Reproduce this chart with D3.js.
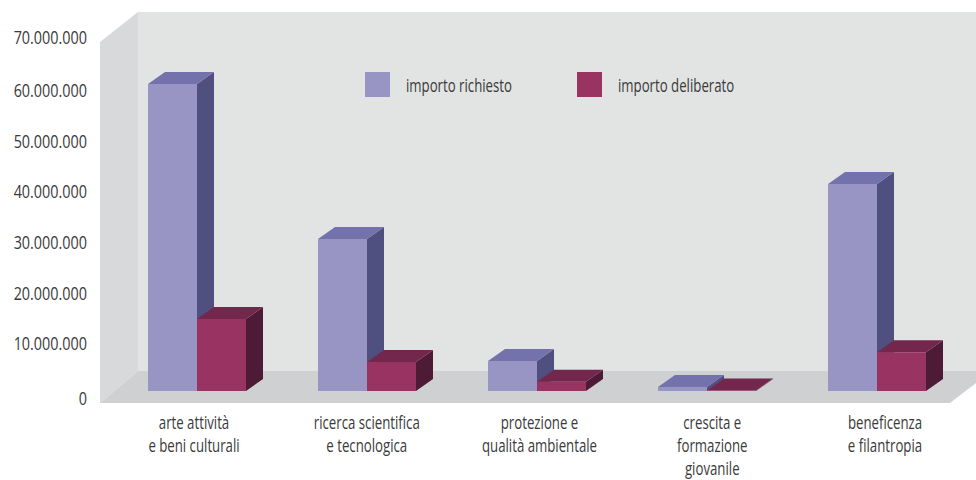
<!DOCTYPE html>
<html>
<head>
<meta charset="utf-8">
<script src="https://cdn.jsdelivr.net/npm/d3@7"></script>
<style>
  html, body { margin: 0; padding: 0; background: #fff; }
  svg { display: block; }
  text { font-family: "Open Sans", sans-serif; font-size: 18px; fill: #3a3a3a; }
</style>
</head>
<body>
<svg class="chart" width="976" height="480"></svg>
<script>
const categories = ["arte", "ricerca", "protezione", "crescita", "beneficenza"];
const categoryLines = [
  ["arte attività", "e beni culturali"],
  ["ricerca scientifica", "e tecnologica"],
  ["protezione e", "qualità ambientale"],
  ["crescita e", "formazione", "giovanile"],
  ["beneficenza", "e filantropia"],
];
const seriesNames = ["importo richiesto", "importo deliberato"];
const richiesto = [60200000, 29800000, 5900000, 800000, 40600000];
const deliberato = [14100000, 5700000, 1800000, 100000, 7600000];
const tickValues = [0, 10000000, 20000000, 30000000, 40000000, 50000000, 60000000, 70000000];

const colors = [
  { front: "#9894c4", top: "#7472ac", side: "#4f4f80" },
  { front: "#983362", top: "#73274d", side: "#4d1b35" },
];

const svg = d3.select(".chart");

const depthX = 17;
const depthY = 12;
const baseY = 391;
// the original type is condensed, none of the installed fonts is
const narrowText = 0.735;
const narrowDigits = 0.8;

const yScale = d3.scaleLinear().domain([0, 70000000]).range([baseY, baseY - 357]);
// tick labels sit a little off the bars' scale in the original
const tickScale = d3.scaleLinear().domain([0, 10000000, 60000000, 70000000]).range([399, 344, 91, 38]);

const xScale = d3.scaleBand().domain(categories).range([112, 962]);
const barScale = d3.scaleBand().domain(seriesNames).range([0, 98]);
const labelScale = d3.scalePoint().domain(categories).range([194, 885]);

const poly = (pts, fill) => svg.append("polygon")
  .attr("points", pts.map((p) => p.join(",")).join(" "))
  .attr("fill", fill);

// walls and floor
poly([[138, 12], [976, 12], [976, 371], [138, 371]], "#e2e4e3");
poly([[100, 42], [138, 12], [138, 371], [100, 403]], "#d8d9db");
poly([[138, 371], [976, 371], [976, 383], [950, 403], [100, 403]], "#cfd0d2");

// axis labels
const fmt = (v) => d3.format(",")(v).replace(/,/g, ".");
const axis = svg.append("g")
  .attr("transform", `translate(87, 0) scale(${narrowDigits}, 1)`)
  .call(d3.axisLeft(tickScale).tickValues(tickValues).tickFormat(fmt).tickSize(0).tickPadding(0));
axis.select(".domain").remove();

// bars
categories.forEach((c, i) => {
  [richiesto, deliberato].forEach((values, s) => {
    const x0 = xScale(c) + (xScale.bandwidth() - barScale.range()[1]) / 2 + barScale(seriesNames[s]);
    const x1 = x0 + barScale.bandwidth();
    const yTop = yScale(values[i]);
    const col = colors[s];
    poly([[x1, yTop], [x1 + depthX, yTop - depthY], [x1 + depthX, baseY - depthY], [x1, baseY]], col.side);
    poly([[x0, yTop], [x0 + depthX, yTop - depthY], [x1 + depthX, yTop - depthY], [x1, yTop]], col.top);
    poly([[x0, yTop], [x1, yTop], [x1, baseY], [x0, baseY]], col.front);
  });
});

// legend
const legendX = d3.scaleOrdinal().domain(seriesNames).range([365, 577]);
const legend = svg.selectAll(".legend").data(seriesNames).enter().append("g")
  .attr("transform", (d) => `translate(${legendX(d)}, 72)`);
legend.append("rect").attr("width", 25).attr("height", 25)
  .attr("fill", (d, i) => colors[i].front);
legend.append("text")
  .attr("transform", `translate(41, 20) scale(${narrowText}, 1)`)
  .text((d) => d);

// category labels
categories.forEach((c, i) => {
  svg.append("g").selectAll("text").data(categoryLines[i]).enter().append("text")
    .attr("transform", (d, j) => `translate(${labelScale(c)}, ${428.5 + j * 23}) scale(${narrowText}, 1)`)
    .attr("text-anchor", "middle")
    .text((d) => d);
});
</script>
</body>
</html>
